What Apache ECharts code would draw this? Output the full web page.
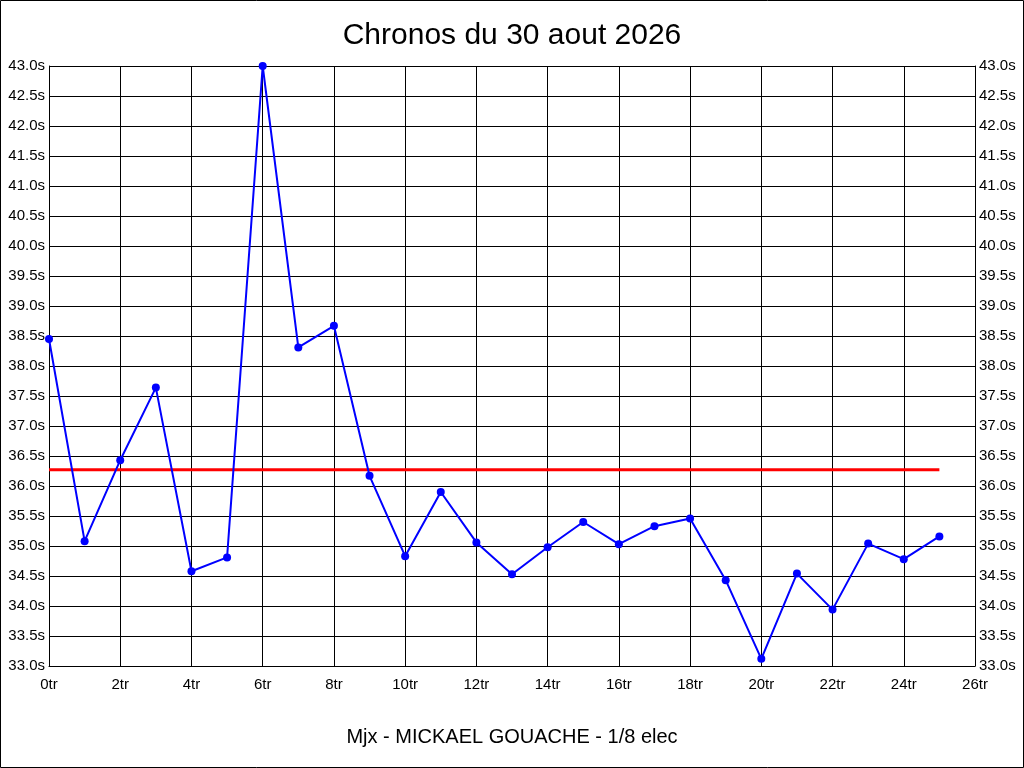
<!DOCTYPE html>
<html>
<head>
<meta charset="utf-8">
<script src="https://cdn.jsdelivr.net/npm/echarts@6/dist/echarts.min.js"></script>
<style>
html,body{margin:0;padding:0;background:#fff;}
#chart{width:1024px;height:768px;}
</style>
</head>
<body>
<div id="chart"></div>
<script>
const titleText = "Chronos du 30 aout 2026";
const subtitleText = "Mjx - MICKAEL GOUACHE - 1/8 elec";
const laps = [0,1,2,3,4,5,6,7,8,9,10,11,12,13,14,15,16,17,18,19,20,21,22,23,24,25];
const times = [38.45,35.08,36.43,37.64,34.58,34.81,43.0,38.31,38.67,36.17,34.83,35.90,35.06,34.53,34.98,35.40,35.03,35.33,35.46,34.43,33.12,34.54,33.94,35.04,34.78,35.16];
const refLaps = [0,25];
const refValue = 36.27;

const font = "'Liberation Sans', Arial, sans-serif";
const chart = echarts.init(document.getElementById('chart'), null, {renderer:'canvas'});

const yAxisBase = {
  type:'value', min:33, max:43, interval:0.5,
  axisLine:{show:true, lineStyle:{color:'#000', width:1}},
  axisTick:{show:false},
  axisLabel:{color:'#000', fontSize:15, fontFamily:font, margin:4,
    formatter:v => v.toFixed(1)+'s'}
};

chart.setOption({
  animation:false,
  backgroundColor:'#fff',
  title:[
    {text:titleText, left:'center', top:16,
     textStyle:{fontFamily:font, fontSize:30, fontWeight:'normal', color:'#000'}},
    {text:subtitleText, left:'center', top:722,
     textStyle:{fontFamily:font, fontSize:20, fontWeight:'normal', color:'#000'}}
  ],
  graphic:[{type:'rect', shape:{x:0.5,y:0.5,width:1023,height:767},
    style:{fill:'none', stroke:'#000', lineWidth:1}, silent:true, z:100}],
  grid:{left:49, right:49, top:66, bottom:102, containLabel:false},
  xAxis:{type:'value', min:0, max:26, interval:2,
    axisLine:{show:true, onZero:false, lineStyle:{color:'#000', width:1}},
    axisTick:{show:false},
    splitLine:{show:true, lineStyle:{color:'#000', width:1}},
    axisLabel:{color:'#000', fontSize:15, fontFamily:font, margin:11,
      formatter:v => v+'tr'}},
  yAxis:[
    Object.assign({}, yAxisBase, {position:'left',
      splitLine:{show:true, lineStyle:{color:'#000', width:1}}}),
    Object.assign({}, yAxisBase, {position:'right',
      splitLine:{show:false},
      axisLabel:Object.assign({}, yAxisBase.axisLabel)})
  ],
  series:[
    {type:'line', yAxisIndex:0,
     data:refLaps.map(x => [x, refValue]),
     symbol:'none', lineStyle:{color:'#ff0000', width:3}, z:3},
    {type:'line', yAxisIndex:0,
     data:laps.map((x,i) => [x, times[i]]),
     symbol:'circle', symbolSize:8, showSymbol:true,
     itemStyle:{color:'#0000ff'},
     lineStyle:{color:'#0000ff', width:2}, z:4}
  ]
});
</script>
</body>
</html>
